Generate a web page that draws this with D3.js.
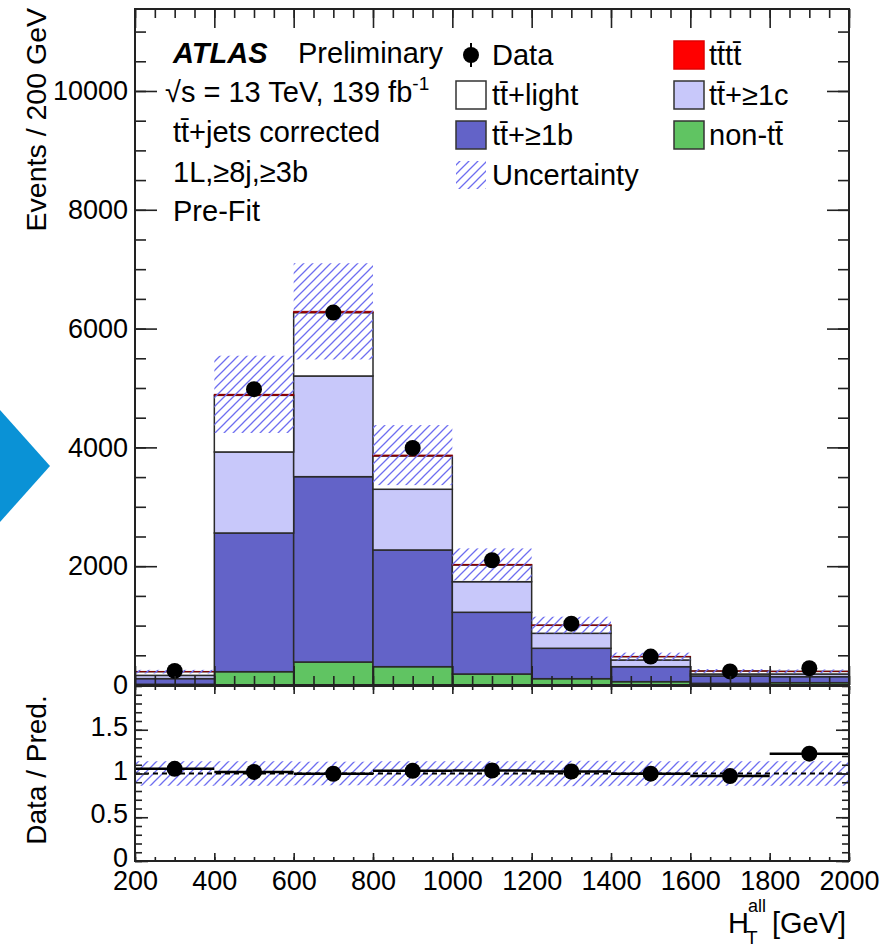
<!DOCTYPE html>
<html>
<head>
<meta charset="utf-8">
<script src="https://cdn.jsdelivr.net/npm/d3@7"></script>
<style>
  body { margin: 0; background: #fff; }
  svg { display: block; font-family: "Liberation Sans", Arial, Helvetica, sans-serif; }
</style>
</head>
<body>
<svg></svg>
<script>
const WIDTH = 892;
const HEIGHT = 951;
const FONT = 27;       // tick labels
const TEXT_FONT = 29;  // labels and legend

// binning of H_T^all (GeV)
const binEdges = [200, 400, 600, 800, 1000, 1200, 1400, 1600, 1800, 2000];

// stacked predictions, events per bin (bottom -> top)
const nonTT   = [12, 224, 387, 308, 185, 106, 56, 28, 39];
const ttB     = [95, 2335, 3120, 1965, 1039, 512, 252, 124, 101];
const ttC     = [55, 1364, 1695, 1022, 515, 252, 113, 33, 45];
const ttLight = [62, 953, 1066, 560, 281, 135, 56, 50, 44];
const tttt    = [1, 17, 22, 15, 10, 5, 3, 1, 1];

// data and uncertainties
const dataCounts = [237, 4980, 6270, 3990, 2100, 1033, 479, 229, 282];
const dataErr    = [15, 71, 79, 63, 46, 32, 22, 15, 17];
const predUnc    = [30, 650, 810, 505, 270, 140, 65, 32, 31];
const ratioUnc   = [0.14, 0.14, 0.135, 0.14, 0.14, 0.145, 0.14, 0.14, 0.14];

// axis ticks
const mainYTicks  = [0, 2000, 4000, 6000, 8000, 10000];
const ratioYTicks = [0, 0.5, 1, 1.5];
const xTicks      = [200, 400, 600, 800, 1000, 1200, 1400, 1600, 1800, 2000];

const keys = ["nonTT", "ttB", "ttC", "ttLight", "tttt"];
const colors = {
   nonTT: "#60c462",
   ttB: "#6363c8",
   ttC: "#c8c8fa",
   ttLight: "#ffffff",
   tttt: "#ff0000"
};

const rows = binEdges.slice(0, -1).map((lo, i) => ({
   lo: lo, hi: binEdges[i + 1],
   nonTT: nonTT[i], ttB: ttB[i], ttC: ttC[i], ttLight: ttLight[i], tttt: tttt[i],
   data: dataCounts[i], err: dataErr[i], unc: predUnc[i], runc: ratioUnc[i]
}));
rows.forEach(r => { r.total = keys.reduce((s, k) => s + r[k], 0); });

const LEFT = 135, RIGHT = 849;
const MAIN_TOP = 9, MAIN_BOTTOM = 685;
const RATIO_TOP = 686, RATIO_BOTTOM = 861;

const x = d3.scaleLinear().domain([200, 2000]).range([LEFT, RIGHT]);
const y = d3.scaleLinear().domain([0, 11380]).range([MAIN_BOTTOM, MAIN_TOP]);
const yr = d3.scaleLinear().domain([0, 2]).range([RATIO_BOTTOM, RATIO_TOP]);

const svg = d3.select("svg").attr("width", WIDTH).attr("height", HEIGHT);

const defs = svg.append("defs");
const hatch = defs.append("pattern")
   .attr("id", "hatch")
   .attr("patternUnits", "userSpaceOnUse")
   .attr("width", 9).attr("height", 9);
hatch.append("path")
   .attr("d", "M-2,2 l4,-4 M0,9 l9,-9 M7,11 l4,-4")
   .attr("stroke", "#6e6ef0")
   .attr("stroke-width", 1.3);

defs.append("clipPath").attr("id", "clipMain")
   .append("rect").attr("x", LEFT).attr("y", MAIN_TOP)
   .attr("width", RIGHT - LEFT).attr("height", MAIN_BOTTOM - MAIN_TOP);
defs.append("clipPath").attr("id", "clipRatio")
   .append("rect").attr("x", LEFT).attr("y", RATIO_TOP)
   .attr("width", RIGHT - LEFT).attr("height", RATIO_BOTTOM - RATIO_TOP);

// decoration on the left edge
svg.append("polygon")
   .attr("points", "0,410 50,466 0,522")
   .attr("fill", "#0a92d6");

// ---------- main panel ----------
const main = svg.append("g").attr("clip-path", "url(#clipMain)");

const stacked = d3.stack().keys(keys)(rows);
stacked.forEach(layer => {
   main.append("g")
      .selectAll("rect")
      .data(layer)
      .enter()
      .append("rect")
      .attr("x", d => x(d.data.lo))
      .attr("width", d => x(d.data.hi) - x(d.data.lo))
      .attr("y", d => y(d[1]))
      .attr("height", d => y(d[0]) - y(d[1]))
      .attr("fill", colors[layer.key])
      .attr("stroke", layer.key === "tttt" ? "#8a0000" : "#2a2a2a")
      .attr("stroke-width", layer.key === "tttt" ? 1 : 1.5);
});

// uncertainty band
main.append("g")
   .selectAll("rect")
   .data(rows)
   .enter()
   .append("rect")
   .attr("x", d => x(d.lo))
   .attr("width", d => x(d.hi) - x(d.lo))
   .attr("y", d => y(d.total + d.unc))
   .attr("height", d => y(d.total - d.unc) - y(d.total + d.unc))
   .attr("fill", "url(#hatch)");

// data points
const mainData = main.append("g");
mainData.selectAll("line")
   .data(rows)
   .enter()
   .append("line")
   .attr("x1", d => x((d.lo + d.hi) / 2))
   .attr("x2", d => x((d.lo + d.hi) / 2))
   .attr("y1", d => y(d.data - d.err))
   .attr("y2", d => y(d.data + d.err))
   .attr("stroke", "#000")
   .attr("stroke-width", 2);
mainData.selectAll("circle")
   .data(rows)
   .enter()
   .append("circle")
   .attr("cx", d => x((d.lo + d.hi) / 2))
   .attr("cy", d => y(d.data))
   .attr("r", 8)
   .attr("fill", "#000");

// ---------- ratio panel ----------
const ratio = svg.append("g").attr("clip-path", "url(#clipRatio)");

ratio.append("g")
   .selectAll("rect")
   .data(rows)
   .enter()
   .append("rect")
   .attr("x", d => x(d.lo))
   .attr("width", d => x(d.hi) - x(d.lo))
   .attr("y", d => yr(1 + d.runc))
   .attr("height", d => yr(1 - d.runc) - yr(1 + d.runc))
   .attr("fill", "url(#hatch)");

ratio.append("line")
   .attr("x1", LEFT).attr("x2", RIGHT)
   .attr("y1", yr(1)).attr("y2", yr(1))
   .attr("stroke", "#000")
   .attr("stroke-width", 2)
   .attr("stroke-dasharray", "5,4");

const ratioData = ratio.append("g");
ratioData.selectAll("line.h")
   .data(rows)
   .enter()
   .append("line")
   .attr("class", "h")
   .attr("x1", d => x(d.lo))
   .attr("x2", d => x(d.hi))
   .attr("y1", d => yr(d.data / d.total))
   .attr("y2", d => yr(d.data / d.total))
   .attr("stroke", "#000")
   .attr("stroke-width", 2.5);
ratioData.selectAll("line.v")
   .data(rows)
   .enter()
   .append("line")
   .attr("class", "v")
   .attr("x1", d => x((d.lo + d.hi) / 2))
   .attr("x2", d => x((d.lo + d.hi) / 2))
   .attr("y1", d => yr((d.data - d.err) / d.total))
   .attr("y2", d => yr((d.data + d.err) / d.total))
   .attr("stroke", "#000")
   .attr("stroke-width", 2);
ratioData.selectAll("circle")
   .data(rows)
   .enter()
   .append("circle")
   .attr("cx", d => x((d.lo + d.hi) / 2))
   .attr("cy", d => yr(d.data / d.total))
   .attr("r", 8)
   .attr("fill", "#000");

// ---------- axes (ticks inside, mirrored like ROOT) ----------
function ticks(axis, values, size, transform) {
   const g = svg.append("g")
      .attr("transform", transform)
      .call(axis.tickValues(values).tickSize(size).tickFormat(""));
   g.select(".domain").remove();
   g.selectAll("line").attr("stroke", "#222").attr("stroke-width", 1.6);
   return g;
}

const xMinor = d3.range(200, 2001, 50);
const yMinor = d3.range(0, 11001, 500);
const rMinor = d3.range(0, 2.001, 0.1);

// main panel
ticks(d3.axisBottom(x), xMinor, -9, `translate(0,${MAIN_BOTTOM})`);
ticks(d3.axisBottom(x), xTicks, -19, `translate(0,${MAIN_BOTTOM})`);
ticks(d3.axisTop(x), xMinor, -9, `translate(0,${MAIN_TOP})`);
ticks(d3.axisTop(x), xTicks, -19, `translate(0,${MAIN_TOP})`);
ticks(d3.axisLeft(y), yMinor, -11, `translate(${LEFT},0)`);
ticks(d3.axisLeft(y), mainYTicks, -22, `translate(${LEFT},0)`);
ticks(d3.axisRight(y), yMinor, -11, `translate(${RIGHT},0)`);
ticks(d3.axisRight(y), mainYTicks, -22, `translate(${RIGHT},0)`);

// ratio panel
ticks(d3.axisBottom(x), xMinor, -4, `translate(0,${RATIO_BOTTOM})`);
ticks(d3.axisBottom(x), xTicks, -8, `translate(0,${RATIO_BOTTOM})`);
ticks(d3.axisTop(x), xMinor, -4, `translate(0,${RATIO_TOP})`);
ticks(d3.axisTop(x), xTicks, -8, `translate(0,${RATIO_TOP})`);
ticks(d3.axisLeft(yr), rMinor, -7, `translate(${LEFT},0)`);
ticks(d3.axisLeft(yr), ratioYTicks, -13, `translate(${LEFT},0)`);
ticks(d3.axisRight(yr), rMinor, -7, `translate(${RIGHT},0)`);
ticks(d3.axisRight(yr), ratioYTicks, -13, `translate(${RIGHT},0)`);

// frames
[[MAIN_TOP, MAIN_BOTTOM], [RATIO_TOP, RATIO_BOTTOM]].forEach(([t, b]) => {
   svg.append("rect")
      .attr("x", LEFT).attr("y", t)
      .attr("width", RIGHT - LEFT).attr("height", b - t)
      .attr("fill", "none")
      .attr("stroke", "#222")
      .attr("stroke-width", 2);
});

// tick labels
function labels(axis, values, fmt, pad, transform) {
   const g = svg.append("g")
      .attr("transform", transform)
      .call(axis.tickValues(values).tickSize(0).tickPadding(pad).tickFormat(fmt));
   g.select(".domain").remove();
   g.selectAll("text")
      .attr("font-size", FONT)
      .attr("font-family", "Liberation Sans, Arial, sans-serif")
      .attr("fill", "#000");
   return g;
}
labels(d3.axisLeft(y), mainYTicks, d3.format("d"), 7, `translate(${LEFT},0)`);
labels(d3.axisLeft(yr), ratioYTicks, d => String(d), 7, `translate(${LEFT},-3)`);
labels(d3.axisBottom(x), xTicks, d3.format("d"), 10, `translate(0,${RATIO_BOTTOM})`);

// axis titles
svg.append("text")
   .attr("transform", "translate(46,8) rotate(-90)")
   .attr("text-anchor", "end")
   .attr("font-size", 28.5)
   .text("Events / 200 GeV");
svg.append("text")
   .attr("transform", "translate(46,770) rotate(-90)")
   .attr("text-anchor", "middle")
   .attr("font-size", 28)
   .text("Data / Pred.");

const xTitle = svg.append("text")
   .attr("font-size", 29)
   .attr("y", 933);
xTitle.append("tspan").attr("x", 728).text("H");
xTitle.append("tspan").attr("x", 746).attr("y", 944).attr("font-size", 19).text("T");
xTitle.append("tspan").attr("x", 748).attr("y", 912).attr("font-size", 18).text("all");
xTitle.append("tspan").attr("x", 772).attr("y", 933).text("[GeV]");

// ---------- ATLAS label ----------
const info = svg.append("g").attr("font-size", TEXT_FONT);
info.append("text")
   .attr("x", 173).attr("y", 63)
   .attr("font-weight", "bold")
   .attr("font-style", "italic")
   .text("ATLAS");
info.append("text").attr("x", 298).attr("y", 63).text("Preliminary");
const lumi = info.append("text").attr("x", 165).attr("y", 102);
lumi.append("tspan").text("\u221As = 13 TeV, 139 fb");
lumi.append("tspan").attr("font-size", 19).attr("dy", -12).text("-1");
info.append("text").attr("x", 173).attr("y", 142).text("tt\u0304+jets corrected");
info.append("text").attr("x", 173).attr("y", 182).text("1L,\u22658j,\u22653b");
info.append("text").attr("x", 173).attr("y", 221).text("Pre-Fit");

// ---------- legend ----------
const legendLeft = [
   { type: "data", label: "Data" },
   { type: "box", key: "ttLight", label: "tt\u0304+light" },
   { type: "box", key: "ttB", label: "tt\u0304+\u22651b" },
   { type: "hatch", label: "Uncertainty" }
];
const legendRight = [
   { type: "box", key: "tttt", label: "tt\u0304tt\u0304" },
   { type: "box", key: "ttC", label: "tt\u0304+\u22651c" },
   { type: "box", key: "nonTT", label: "non-tt\u0304" }
];

function drawLegend(items, x0, textX) {
   const g = svg.append("g").attr("id", "legend");
   items.forEach((item, i) => {
      const cy = 55 + i * 40;
      const row = g.append("g");
      if (item.type === "data") {
         row.append("line")
            .attr("x1", x0 + 16).attr("x2", x0 + 16)
            .attr("y1", cy - 12).attr("y2", cy + 12)
            .attr("stroke", "#000").attr("stroke-width", 2);
         row.append("circle")
            .attr("cx", x0 + 16).attr("cy", cy).attr("r", 8).attr("fill", "#000");
      } else if (item.type === "hatch") {
         row.append("rect")
            .attr("x", x0 + 1).attr("y", cy - 14)
            .attr("width", 30).attr("height", 28)
            .attr("fill", "url(#hatch)");
      } else {
         row.append("rect")
            .attr("x", x0 + 1).attr("y", cy - 14)
            .attr("width", 30).attr("height", 28)
            .attr("fill", colors[item.key])
            .attr("stroke", item.key === "tttt" ? "#e00000" : "#333")
            .attr("stroke-width", 1.5);
      }
      row.append("text")
         .attr("x", textX).attr("y", cy + 10)
         .attr("font-size", TEXT_FONT)
         .text(item.label);
   });
}
drawLegend(legendLeft, 455, 492);
drawLegend(legendRight, 673, 709);
</script>
</body>
</html>
